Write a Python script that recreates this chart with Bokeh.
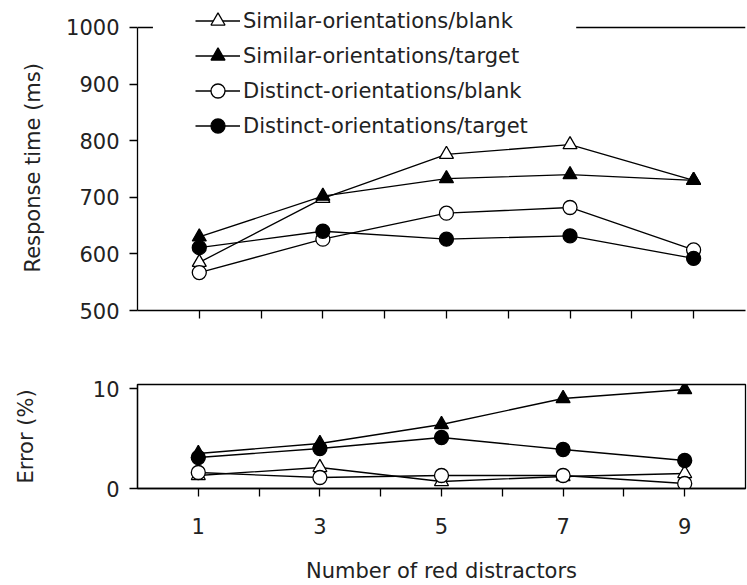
from bokeh.plotting import figure
from bokeh.layouts import column
from bokeh.models import Range1d, FixedTicker, Legend, LegendItem, Title
from bokeh.embed import file_html
from bokeh.resources import INLINE

# Number of red distractors
distractors = [1, 3, 5, 7, 9]

# Response time (ms)
rt_similar_blank = [585, 698, 776, 793, 730]
rt_similar_target = [630, 702, 733, 740, 730]
rt_distinct_blank = [567, 626, 672, 682, 607]
rt_distinct_target = [611, 640, 626, 632, 592]

# Error (%)
err_similar_blank = [1.3, 2.1, 0.7, 1.2, 1.5]
err_similar_target = [3.5, 4.5, 6.4, 9.0, 9.9]
err_distinct_blank = [1.6, 1.1, 1.3, 1.3, 0.5]
err_distinct_target = [3.1, 4.0, 5.1, 3.9, 2.8]

series_names = [
    "Similar-orientations/blank",
    "Similar-orientations/target",
    "Distinct-orientations/blank",
    "Distinct-orientations/target",
]

FONT = "DejaVu Sans"
FS = "21px"
INK = "black"
TXT = "#222222"
LW = 1.3

# marker style per condition: (marker, fill)
styles = [("triangle", "white"), ("triangle", INK), ("circle", "white"), ("circle", INK)]


def style_axes(p):
    for ax in (p.xaxis[0], p.yaxis[0]):
        ax.axis_line_color = INK
        ax.axis_line_width = LW
        ax.major_tick_line_color = INK
        ax.major_tick_line_width = LW
        ax.minor_tick_line_color = INK
        ax.minor_tick_line_width = LW
        ax.major_tick_in = 0
        ax.major_tick_out = 8
        ax.minor_tick_in = 0
        ax.minor_tick_out = 8
        ax.major_label_text_font = FONT
        ax.major_label_text_font_size = FS
        ax.major_label_text_color = TXT
        ax.axis_label_text_font = FONT
        ax.axis_label_text_font_size = FS
        ax.axis_label_text_font_style = "normal"
        ax.axis_label_text_color = TXT
    p.grid.visible = False
    p.background_fill_color = "white"
    p.border_fill_color = "white"


def draw_series(p, ys_list):
    renderers = []
    for ys, (marker, fill) in zip(ys_list, styles):
        ln = p.line(distractors, ys, line_color=INK, line_width=LW)
        sc = p.scatter(distractors, ys, marker=marker, size=14,
                       fill_color=fill, line_color=INK, line_width=LW)
        renderers.append((ln, sc))
    return renderers


# ---- Response time panel ----
# the frame reaches the top edge so the key can sit above the 1000 ms line
top = figure(width=747, height=335, x_range=Range1d(0, 9.84), y_range=Range1d(500, 1047.7),
             output_backend="svg", toolbar_location=None,
             min_border_left=137, min_border_right=0, min_border_top=0, min_border_bottom=25)
style_axes(top)
top.outline_line_color = None
top.yaxis.ticker = FixedTicker(ticks=[500, 600, 700, 800, 900, 1000])
top.yaxis.bounds = (500, 1000)
top.yaxis.major_label_standoff = 10
top.xaxis.ticker = FixedTicker(ticks=[1, 3, 5, 7, 9], minor_ticks=[2, 4, 6, 8])
top.xaxis.major_label_overrides = {t: "" for t in distractors}
top.xaxis.major_label_standoff = 0

# y label centred on the 500-1000 ms span rather than the whole frame
top.add_layout(Title(text="Response time (ms)", align="left", offset=38, standoff=37,
                     text_font=FONT, text_font_size=FS, text_font_style="normal",
                     text_color=TXT), "left")

# visible pieces of the panel's top border either side of the key
top.segment(x0=[0, 7.1], y0=[1000, 1000], x1=[0.25, 9.84], y1=[1000, 1000],
            line_color=INK, line_width=LW)

rt_renderers = draw_series(top, [rt_similar_blank, rt_similar_target,
                                 rt_distinct_blank, rt_distinct_target])

legend = Legend(
    items=[LegendItem(label=name, renderers=list(r)) for name, r in zip(series_names, rt_renderers)],
    location=(58, 167), orientation="vertical",
    label_text_font=FONT, label_text_font_size=FS, label_text_color=TXT,
    glyph_width=45, glyph_height=35, label_height=21, label_standoff=3,
    spacing=0, padding=0, margin=0,
    background_fill_color="white", background_fill_alpha=1.0,
    border_line_color=None,
)
top.add_layout(legend)

# ---- Error panel ----
bot = figure(width=747, height=250, x_range=Range1d(0, 10), y_range=Range1d(0, 10.4),
             output_backend="svg", toolbar_location=None,
             min_border_left=137, min_border_right=2, min_border_top=49, min_border_bottom=97)
style_axes(bot)
bot.outline_line_color = INK
bot.outline_line_width = LW
bot.yaxis.ticker = FixedTicker(ticks=[0, 10])
bot.yaxis.axis_label = "Error (%)"
bot.yaxis.major_label_standoff = 10
bot.yaxis.axis_label_standoff = 52
bot.xaxis.ticker = FixedTicker(ticks=[1, 3, 5, 7, 9], minor_ticks=[2, 4, 6, 8])
bot.xaxis.axis_label = "Number of red distractors"
bot.xaxis.major_label_standoff = 21
bot.xaxis.axis_label_standoff = 22

draw_series(bot, [err_similar_blank, err_similar_target,
                  err_distinct_blank, err_distinct_target])

layout = column(top, bot, spacing=0)
open("out.html", "w").write(file_html(layout, INLINE))
